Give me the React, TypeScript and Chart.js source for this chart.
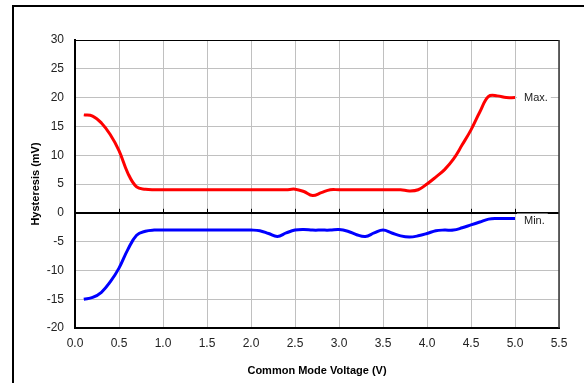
import React, { useEffect, useRef } from "react";
import { Chart, registerables } from "chart.js";

Chart.register(...registerables);

const voltage = [0.1, 0.2, 0.3, 0.4, 0.5, 0.6, 0.7, 0.8, 0.9, 1.0,
  1.1, 1.2, 1.3, 1.4, 1.5, 1.6, 1.7, 1.8, 1.9, 2.0,
  2.1, 2.2, 2.3, 2.4, 2.5, 2.6, 2.7, 2.8, 2.9, 3.0,
  3.1, 3.2, 3.3, 3.4, 3.5, 3.6, 3.7, 3.8, 3.9, 4.0,
  4.1, 4.2, 4.3, 4.4, 4.5, 4.6, 4.7, 4.8, 4.9, 5.0];

const maxHysteresis = [17.0, 16.8, 15.6, 13.6, 10.8, 6.9, 4.5, 4.1, 4.0, 4.0,
  4.0, 4.0, 4.0, 4.0, 4.0, 4.0, 4.0, 4.0, 4.0, 4.0,
  4.0, 4.0, 4.0, 4.0, 4.1, 3.7, 3.0, 3.5, 4.0, 4.0,
  4.0, 4.0, 4.0, 4.0, 4.0, 4.0, 4.0, 3.8, 4.0, 5.0,
  6.2, 7.5, 9.3, 11.8, 14.4, 17.5, 20.2, 20.3, 20.0, 20.0];

const minHysteresis = [-15.0, -14.7, -13.8, -12.0, -9.6, -6.4, -3.9, -3.2, -3.0, -3.0,
  -3.0, -3.0, -3.0, -3.0, -3.0, -3.0, -3.0, -3.0, -3.0, -3.0,
  -3.1, -3.6, -4.1, -3.5, -3.0, -2.9, -3.0, -3.0, -3.0, -2.9,
  -3.2, -3.8, -4.1, -3.5, -3.0, -3.5, -4.0, -4.2, -4.0, -3.6,
  -3.1, -3.0, -3.0, -2.6, -2.1, -1.6, -1.1, -1.0, -1.0, -1.0];

const seriesLabels = ["Max.", "Min."];
const xTitle = "Common Mode Voltage (V)";
const yTitle = "Hysteresis (mV)";

const FONT = "'Liberation Sans', Arial, sans-serif";

export default function App() {
  const ref = useRef<HTMLCanvasElement | null>(null);

  useEffect(() => {
    document.body.style.margin = "0";
    const canvas = ref.current;
    if (!canvas) return;

    const decorPlugin = {
      id: "decor",
      beforeDraw(chart: any) {
        const ctx = chart.ctx;
        ctx.save();
        ctx.fillStyle = "#fff";
        ctx.fillRect(0, 0, chart.width, chart.height);
        ctx.fillStyle = "#000";
        ctx.fillRect(12, 5, 2, chart.height);
        ctx.fillRect(12, 5, chart.width, 2);
        ctx.restore();
      },
      beforeDatasetsDraw(chart: any) {
        const ctx = chart.ctx;
        const a = chart.chartArea;
        const xs = chart.scales.x;
        const ys = chart.scales.y;
        ctx.save();
        ctx.strokeStyle = "#000";
        ctx.lineWidth = 1;
        ctx.beginPath();
        ctx.moveTo(a.left, a.top + 0.5);
        ctx.lineTo(a.right, a.top + 0.5);
        ctx.stroke();
        ctx.strokeStyle = "#333";
        ctx.lineWidth = 1.5;
        ctx.beginPath();
        ctx.moveTo(a.right, a.top);
        ctx.lineTo(a.right, a.bottom);
        ctx.stroke();
        const y0 = ys.getPixelForValue(0);
        ctx.strokeStyle = "#000";
        ctx.lineWidth = 1;
        for (let v = 0.5; v < 5.5; v += 0.5) {
          const px = Math.round(xs.getPixelForValue(v)) + 0.5;
          ctx.beginPath();
          ctx.moveTo(px, y0 - 4);
          ctx.lineTo(px, y0);
          ctx.stroke();
        }
        ctx.restore();
      },
      afterDatasetsDraw(chart: any) {
        const ctx = chart.ctx;
        ctx.save();
        ctx.font = `11px ${FONT}`;
        ctx.textBaseline = "middle";
        chart.data.datasets.forEach((ds: any, i: number) => {
          const meta = chart.getDatasetMeta(i);
          const last = meta.data[meta.data.length - 1];
          const text = seriesLabels[i];
          const tx = last.x + 9;
          const ty = last.y + (i === 1 ? 2 : 0);
          const w = ctx.measureText(text).width;
          ctx.fillStyle = "#fff";
          ctx.fillRect(tx - 7, ty - 7, w + 10, 14);
          ctx.fillStyle = "#222";
          ctx.fillText(text, tx, ty);
        });
        ctx.restore();
      },
    };

    const chart = new Chart(canvas, {
      type: "line",
      data: {
        datasets: [
          {
            label: seriesLabels[0],
            data: voltage.map((x, i) => ({ x, y: maxHysteresis[i] })),
            borderColor: "#ff0000",
            borderWidth: 3,
            pointRadius: 0,
            tension: 0.4,
            fill: false,
          },
          {
            label: seriesLabels[1],
            data: voltage.map((x, i) => ({ x, y: minHysteresis[i] })),
            borderColor: "#0000ff",
            borderWidth: 3,
            pointRadius: 0,
            tension: 0.4,
            fill: false,
          },
        ],
      },
      plugins: [decorPlugin],
      options: {
        responsive: false,
        animation: false,
        layout: { padding: { left: 12, top: 40, right: 25, bottom: 0 } },
        plugins: {
          legend: { display: false },
          tooltip: { enabled: false },
        },
        scales: {
          x: {
            type: "linear",
            min: 0,
            max: 5.5,
            afterFit: (s: any) => { s.height = 55; },
            ticks: {
              stepSize: 0.5,
              padding: 8,
              color: "#222",
              font: { family: FONT, size: 12 },
              callback: (v: any) => Number(v).toFixed(1),
              maxRotation: 0,
            },
            grid: {
              color: "#c0c0c0",
              lineWidth: 1,
              drawTicks: false,
            },
            border: { display: true, color: "#000", width: 2 },
            title: {
              display: true,
              text: xTitle,
              color: "#000",
              font: { family: FONT, size: 11, weight: "bold" },
              padding: { top: 0, bottom: 5 },
            },
          },
          y: {
            min: -20,
            max: 30,
            afterFit: (s: any) => { s.width = 63; },
            ticks: {
              stepSize: 5,
              padding: 11,
              color: "#222",
              font: { family: FONT, size: 12 },
            },
            grid: {
              color: (c: any) => (c.tick && c.tick.value === 0 ? "#000" : "#c0c0c0"),
              lineWidth: (c: any) => (c.tick && c.tick.value === 0 ? 2 : 1),
              drawTicks: false,
            },
            border: { display: true, color: "#000", width: 2 },
            title: {
              display: true,
              text: yTitle,
              color: "#000",
              font: { family: FONT, size: 11, weight: "bold" },
              padding: { top: 17, bottom: 0 },
            },
          },
        },
      },
    } as any);

    return () => chart.destroy();
  }, []);

  return (
    <div style={{ width: 584, height: 383 }}>
      <canvas ref={ref} width={584} height={383} style={{ display: "block" }} />
    </div>
  );
}
